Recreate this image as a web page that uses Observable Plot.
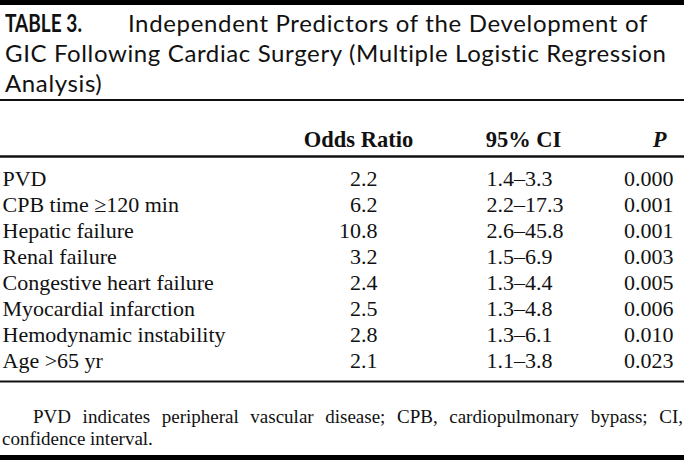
<!DOCTYPE html>
<html><head><meta charset="utf-8">
<script src="https://cdn.jsdelivr.net/npm/d3@7"></script>
<script src="https://cdn.jsdelivr.net/npm/@observablehq/plot@0.6"></script>
<style>
html,body{margin:0;padding:0;background:#fff;}
#wrap{width:684px;height:460px;overflow:hidden;background:#fff;}
#title{box-sizing:border-box;height:101px;border-top:5px solid #000;border-bottom:2px solid #111;padding:3px 0 0 5px;font-family:Lato,sans-serif;font-size:24px;line-height:30px;color:#111;white-space:nowrap;}
#title span{display:inline-block;white-space:nowrap;}
#title b{display:inline-block;font-weight:700;transform-origin:0 50%;}
#note{box-sizing:border-box;height:59px;border-bottom:5px solid #000;padding:5px 1px 0 2px;font-family:"Liberation Serif",serif;font-size:19px;line-height:22px;color:#111;}
#note .l1{text-align:justify;text-align-last:justify;text-indent:31px;white-space:normal;}
svg{display:block;}
</style>
</head><body>
<div id="wrap"><div id="title"></div><div id="chart"></div><div id="note"></div></div>
<script>
const tableLabel = "TABLE 3.";
const titleLines = ["Independent Predictors of the Development of", "GIC Following Cardiac Surgery (Multiple Logistic Regression", "Analysis)"];
const headers = ["Odds Ratio", "95% CI", "P"];
const predictors = ["PVD", "CPB time \u2265120 min", "Hepatic failure", "Renal failure", "Congestive heart failure", "Myocardial infarction", "Hemodynamic instability", "Age >65 yr"];
const oddsRatio = [2.2, 6.2, 10.8, 3.2, 2.4, 2.5, 2.8, 2.1];
const ciLow = [1.4, 2.2, 2.6, 1.5, 1.3, 1.3, 1.3, 1.1];
const ciHigh = [3.3, 17.3, 45.8, 6.9, 4.4, 4.8, 6.1, 3.8];
const pValues = [0.000, 0.001, 0.001, 0.003, 0.005, 0.006, 0.010, 0.023];
const footnoteLines = ["PVD indicates peripheral vascular disease; CPB, cardiopulmonary bypass; CI,", "confidence interval."];

// title (fitted to the reference's narrow typeface)
const t = document.getElementById("title");
const b = document.createElement("b"); b.textContent = tableLabel; t.appendChild(b);
const spans = titleLines.map((l, i) => {
  if (i) t.appendChild(document.createElement("br"));
  const s = document.createElement("span"); s.textContent = l; t.appendChild(s); return s;
});
const bw = b.offsetWidth;
b.style.transform = `scaleX(${77 / bw})`;
b.style.marginRight = (123 - bw) + "px";
const fitTo = [520, 662];
fitTo.forEach((w, i) => {
  const s = spans[i], n = s.textContent.length;
  s.style.letterSpacing = ((w - s.offsetWidth) / n) + "px";
});
spans[2].style.letterSpacing = spans[1].style.letterSpacing;

const note = document.getElementById("note");
footnoteLines.forEach((l, i) => { const d = document.createElement("div"); if (!i) d.className = "l1"; d.textContent = l; note.appendChild(d); });

const rows = predictors.map((name, i) => ({
  name,
  or: oddsRatio[i].toFixed(1),
  ci: ciLow[i].toFixed(1) + "\u2013" + ciHigh[i].toFixed(1),
  p: pValues[i].toFixed(3)
}));
// column index: 0 label, 1 odds ratio, 2 CI, 3 P
const first = predictors[0], last = predictors[predictors.length - 1];
const common = {y: "name", lineAnchor: "bottom", fontSize: 22, fill: "#111"};
const head = {y: () => first, dy: -39, lineAnchor: "bottom", fontSize: 22.5, fontWeight: "bold", fill: "#111"};

const plot = Plot.plot({
  width: 684, height: 300, margin: 0,
  style: {background: "transparent", fontFamily: "'Liberation Serif', serif", color: "#111", overflow: "visible"},
  x: {type: "linear", domain: [0, 1, 2, 3], range: [2, 377, 486, 673], axis: null},
  y: {type: "point", domain: predictors, range: [68, 281.5], axis: null},
  marks: [
    Plot.text([headers[0]], {...head, x: () => 1, text: d => d, textAnchor: "middle", dx: -19}),
    Plot.text([headers[1]], {...head, x: () => 2, text: d => d, textAnchor: "middle", dx: 37}),
    Plot.text([headers[2]], {...head, x: () => 3, text: d => d, textAnchor: "middle", dx: -14, fontStyle: "italic"}),
    Plot.ruleY([first], {dy: -29, stroke: "#111", strokeWidth: 2.5}),
    Plot.text(rows, {...common, x: () => 0, text: "name", textAnchor: "start"}),
    Plot.text(rows, {...common, x: () => 1, text: "or", textAnchor: "end"}),
    Plot.text(rows, {...common, x: () => 2, text: "ci", textAnchor: "start"}),
    Plot.text(rows, {...common, x: () => 3, text: "p", textAnchor: "end"}),
    Plot.ruleY([last], {dy: 14, stroke: "#111", strokeWidth: 2})
  ]
});
document.getElementById("chart").appendChild(plot);
</script>
</body></html>
